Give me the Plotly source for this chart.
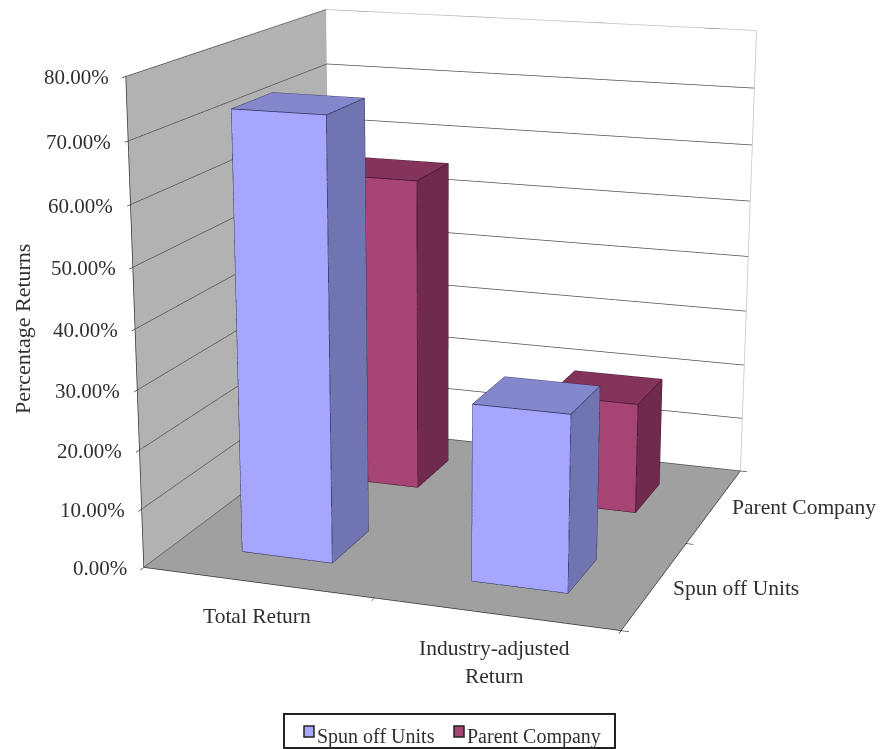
import plotly.graph_objects as go

categories = ["Total Return", "Industry-adjusted<br>Return"]
series_names = ["Spun off Units", "Parent Company"]
spun_off_units = [73.7, 29.5]
parent_company = [55.5, 19.5]
z_ticks = [0, 10, 20, 30, 40, 50, 60, 70, 80]

FRONT = ["#a6a6ff", "#a64573"]
TOP = ["#8487cc", "#84345a"]
SIDE = ["#7074b0", "#702a4d"]
EDGE = ["#2b2b55", "#3a1027"]
SERIF = "Liberation Serif"
TEXT = "#2f2f2f"
PAGE_W, PAGE_H = 881, 2001
TOP_CROP = 626  # the tall scene gives a long lens; only its middle band is shown
HALF_W = 0.2
HALF_D = 0.2


def yp(pixel):
    return 1 - (pixel + TOP_CROP) / PAGE_H


def xp(pixel):
    return pixel / PAGE_W


def bar_traces(cat, ser, value):
    x0, x1 = cat + 0.5 - HALF_W, cat + 0.5 + HALF_W
    y0, y1 = ser + 0.5 - HALF_D, ser + 0.5 + HALF_D
    xs = [x0, x1, x1, x0, x0, x1, x1, x0]
    ys = [y0, y0, y1, y1, y0, y0, y1, y1]
    zs = [0, 0, 0, 0, value, value, value, value]
    tri = [(0, 1, 5), (0, 5, 4), (1, 2, 6), (1, 6, 5), (4, 5, 6), (4, 6, 7),
           (3, 2, 6), (3, 6, 7), (0, 3, 7), (0, 7, 4), (0, 1, 2), (0, 2, 3)]
    colours = [FRONT[ser]] * 2 + [SIDE[ser]] * 2 + [TOP[ser]] * 2 + [SIDE[ser]] * 6
    mesh = go.Mesh3d(
        x=xs, y=ys, z=zs,
        i=[t[0] for t in tri], j=[t[1] for t in tri], k=[t[2] for t in tri],
        facecolor=colours, flatshading=True, showscale=False, hoverinfo="skip",
        name=series_names[ser],
        lighting=dict(ambient=1, diffuse=0, specular=0, roughness=1, fresnel=0),
    )
    path = [0, 1, 5, 4, 0, None, 1, 2, 6, 5, None, 4, 7, 6]
    edges = go.Scatter3d(
        x=[xs[i] if i is not None else None for i in path],
        y=[ys[i] if i is not None else None for i in path],
        z=[zs[i] if i is not None else None for i in path],
        mode="lines", line=dict(color=EDGE[ser], width=1.5),
        hoverinfo="skip", showlegend=False,
    )
    return [mesh, edges]


fig = go.Figure()
for s, values in enumerate([spun_off_units, parent_company]):
    for c, v in enumerate(values):
        fig.add_traces(bar_traces(c, s, v))

# outline of the back wall
fig.add_trace(go.Scatter3d(
    x=[0, 2, 2], y=[2, 2, 2], z=[80, 80, 0], mode="lines",
    line=dict(color="#c4c4c4", width=1.5), hoverinfo="skip", showlegend=False,
))

tick_font = dict(family=SERIF, size=21, color=TEXT)
label_font = dict(family=SERIF, size=21.5, color=TEXT)
notes = []
for z in z_ticks:
    notes.append(dict(x=0, y=0, z=z, text=f"{z:.2f}%", showarrow=False, xanchor="right",
                      yanchor="middle", xshift=-15, yshift=-1, font=tick_font))
notes.append(dict(x=0.5, y=0, z=0, text=categories[0], showarrow=False, yanchor="top",
                  xshift=0, yshift=-20, font=label_font))
notes.append(dict(x=1.5, y=0, z=0, text=categories[1], showarrow=False, yanchor="top",
                  xshift=-1, yshift=-20, font=label_font))
notes.append(dict(x=2, y=0.5, z=0, text=series_names[0], showarrow=False, xanchor="left",
                  xshift=16, yshift=-3, font=label_font))
notes.append(dict(x=2, y=1.5, z=0, text=series_names[1], showarrow=False, xanchor="left",
                  xshift=16, yshift=-1, font=label_font))

# legend box with one swatch per series
legend_swatches = [304, 454]
legend_text = [315, 465]
shapes = [dict(type="rect", xref="paper", yref="paper", x0=xp(284), x1=xp(615), y0=yp(714), y1=yp(748),
               line=dict(color="#222222", width=2), fillcolor="white")]
page_notes = [dict(xref="paper", yref="paper", x=xp(22), y=yp(329), text="Percentage Returns",
                   xanchor="center", yanchor="middle", textangle=-90, showarrow=False,
                   font=dict(family=SERIF, size=22, color=TEXT))]
for s, name in enumerate(series_names):
    shapes.append(dict(type="rect", xref="paper", yref="paper",
                       x0=xp(legend_swatches[s]), x1=xp(legend_swatches[s] + 10),
                       y0=yp(726), y1=yp(737), fillcolor=FRONT[s], line=dict(color="#222222", width=1.5)))
    page_notes.append(dict(xref="paper", yref="paper", x=xp(legend_text[s]), y=yp(736), text=name,
                           xanchor="left", yanchor="middle", showarrow=False,
                           font=dict(family=SERIF, size=20, color=TEXT)))

axis = dict(showspikes=False, showticklabels=False, title=dict(text=""), zeroline=False)
tick_style = dict(ticks="outside", ticklen=6, tickwidth=1.5, tickcolor="#333333",
                  showline=True, linecolor="#333333", linewidth=1.5)
fig.update_layout(
    width=PAGE_W, height=PAGE_H, margin=dict(l=0, r=0, t=0, b=0), paper_bgcolor="white",
    showlegend=False,
    scene=dict(
        domain=dict(x=[0, 1], y=[0, 1]),
        aspectmode="manual", aspectratio=dict(x=1.001, y=1.010, z=1),
        camera=dict(eye=dict(x=1.607, y=-4.626, z=1.242),
                    center=dict(x=-0.022, y=-0.057, z=-0.169),
                    up=dict(x=0, y=0, z=1)),
        xaxis=dict(axis, range=[0, 2], tickvals=[0, 1, 2], showgrid=False, showbackground=True,
                   backgroundcolor="#b2b2b2", **tick_style),
        yaxis=dict(axis, range=[0, 2], tickvals=[0, 1, 2], showgrid=False, showbackground=True,
                   backgroundcolor="#ffffff", **tick_style),
        zaxis=dict(axis, range=[0, 80], tickvals=z_ticks, showgrid=True, gridcolor="#505050",
                   gridwidth=1.5, showbackground=True, backgroundcolor="#a0a0a0", **tick_style),
        annotations=notes,
    ),
    shapes=shapes,
    annotations=page_notes,
)

fig.write_html("out.html", post_script=(
    "document.documentElement.style.overflow='hidden';"
    "document.body.style.overflow='hidden';document.body.style.height='749px';"
    f"document.querySelector('.plotly-graph-div').style.marginTop='-{TOP_CROP}px';"
))
